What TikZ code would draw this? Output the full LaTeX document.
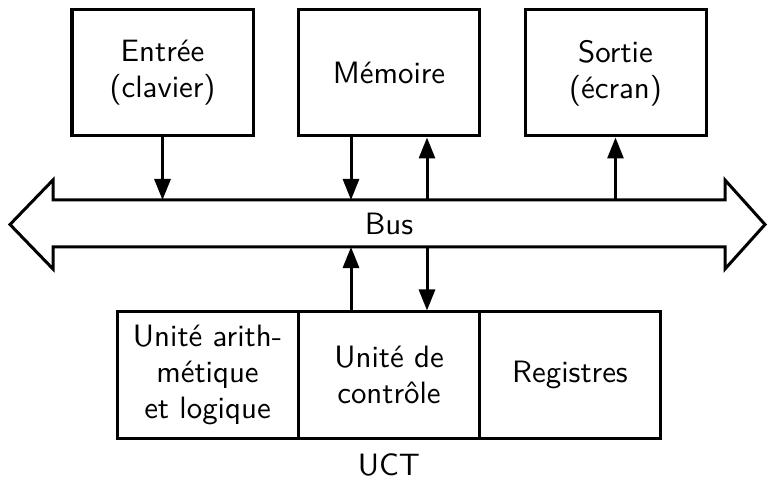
\documentclass[tikz,border=0pt]{standalone}
\usepackage{fontspec}
\setsansfont{lmsans10-regular.otf}
\usetikzlibrary{arrows.meta}
\begin{document}
\begin{tikzpicture}[x=1bp,y=-1bp,line width=3bp,
  txt/.style={font=\sffamily\fontsize{31}{36}\selectfont,align=center},
  box/.style={draw,line width=3bp,minimum width=181bp,minimum height=126bp,inner sep=0pt,txt},
  lowbox/.style={box,minimum height=126bp},
  arr/.style={-{Triangle[length=21bp,width=16bp]}}]
\useasboundingbox (0,0) rectangle (768,477);
% top boxes
\node[box] (in) at (162.5,73) {Entrée\\(clavier)};
\node[box] (mem) at (389,73) {Mémoire};
\node[box] (out) at (615.5,73) {Sortie\\(écran)};
% bus
\draw[line join=miter] (10,224.5) -- (53,180) -- (53,200) -- (725,200) -- (725,180) -- (765,224.5)
  -- (725,269) -- (725,247) -- (53,247) -- (53,269) -- cycle;
\node[txt] (bus) at (389,224) {Bus};
\coordinate (bustop) at (389,200);
\coordinate (busbot) at (389,247);
% bottom boxes
\node[lowbox] (alu) at (207.5,375) {Unité arith-\\métique\\et logique};
\node[lowbox] (cu) at (389,375) {Unité de\\contrôle};
\node[lowbox] (reg) at (570,375) {Registres};
\node[txt,inner sep=0pt,anchor=base] (uct) at (389,475) {UCT};
% connectors
\draw[arr] (in.south) -- (in.south |- bustop);
\draw[arr] ([xshift=-38bp]mem.south) -- ([xshift=-38bp]mem.south |- bustop);
\draw[arr] ([xshift=38bp]mem.south |- bustop) -- ([xshift=38bp]mem.south);
\draw[arr] (out.south |- bustop) -- (out.south);
\draw[arr] ([xshift=-38bp]cu.north) -- ([xshift=-38bp]cu.north |- busbot);
\draw[arr] ([xshift=38bp]cu.north |- busbot) -- ([xshift=38bp]cu.north);
\end{tikzpicture}
\end{document}
